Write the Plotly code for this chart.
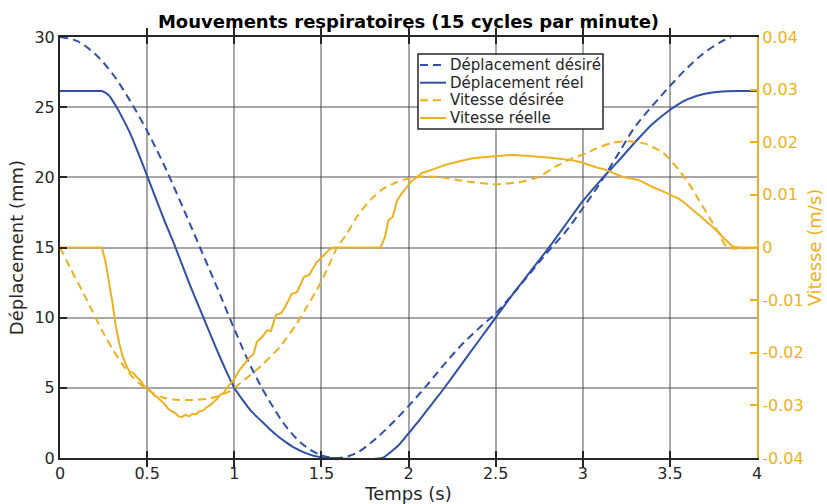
import plotly.graph_objects as go

# ---- Déplacement désiré (mm) ----
t_dep_des = [0.0, 0.1, 0.2, 0.3, 0.4, 0.5, 0.6, 0.7, 0.8, 0.9, 1.0, 1.1, 1.2, 1.3,
             1.4, 1.5, 1.6, 1.7, 1.8, 1.9, 2.0, 2.1, 2.2, 2.3, 2.4, 2.5, 2.6, 2.7,
             2.8, 2.9, 3.0, 3.1, 3.2, 3.3, 3.4, 3.5, 3.6, 3.7, 3.8, 3.85]
dep_des = [30.0, 29.7, 28.8, 27.4, 25.5, 23.3, 20.8, 18.0, 15.1, 12.2, 9.2, 6.4, 4.1, 2.2,
           0.9, 0.2, 0.0, 0.35, 1.25, 2.4, 3.7, 5.1, 6.6, 8.0, 9.2, 10.3, 11.7, 13.2,
           14.7, 16.1, 17.8, 19.6, 21.6, 23.6, 25.1, 26.5, 27.8, 28.9, 29.7, 30.0]

# ---- Déplacement réel (mm) ----
t_dep_reel = [0.0, 0.1, 0.2, 0.24, 0.28, 0.32, 0.36, 0.4, 0.45, 0.5, 0.55, 0.6, 0.65,
              0.7, 0.75, 0.8, 0.85, 0.9, 0.95, 1.0, 1.05, 1.1, 1.15, 1.2, 1.25, 1.3,
              1.35, 1.4, 1.45, 1.5, 1.55, 1.85, 1.9, 1.95, 2.0, 2.05, 2.1, 2.15, 2.2,
              2.3, 2.4, 2.5, 2.6, 2.7, 2.8, 2.9, 3.0, 3.1, 3.2, 3.3, 3.4, 3.5, 3.6,
              3.7, 3.8, 3.9, 4.0]
dep_reel = [26.15, 26.15, 26.15, 26.15, 25.85, 25.1, 24.2, 23.2, 21.7, 20.1, 18.5, 16.9, 15.4,
            13.8, 12.2, 10.7, 9.2, 7.7, 6.3, 5.0, 4.1, 3.3, 2.7, 2.1, 1.55, 1.1,
            0.7, 0.4, 0.18, 0.06, 0.0, 0.0, 0.45, 1.0, 1.75, 2.5, 3.3, 4.1, 4.9,
            6.6, 8.3, 10.0, 11.7, 13.3, 14.9, 16.6, 18.3, 19.75, 21.1, 22.5, 23.8, 24.8, 25.55,
            25.95, 26.12, 26.15, 26.15]

# ---- Vitesse désirée (m/s) ----
t_vit_des = [0.0, 0.067, 0.125, 0.183, 0.24, 0.30, 0.356, 0.413, 0.47, 0.53, 0.59, 0.65,
             0.74, 0.84, 0.90, 0.97, 1.03, 1.09, 1.167, 1.262, 1.358, 1.416, 1.473, 1.531,
             1.59, 1.646, 1.703, 1.78, 1.856, 1.933, 2.01, 2.095, 2.171, 2.324, 2.5, 2.649,
             2.745, 2.84, 2.936, 3.012, 3.075, 3.17, 3.266, 3.361, 3.457, 3.495, 3.553,
             3.61, 3.667, 3.725, 3.782, 3.83, 4.0]
vit_des = [0.0, -0.0044, -0.0081, -0.0119, -0.0157, -0.0192, -0.0221, -0.0245, -0.0262, -0.0276,
           -0.0285, -0.0289, -0.0290, -0.0288, -0.0283, -0.0274, -0.0259, -0.0243, -0.0221,
           -0.0189, -0.0145, -0.0113, -0.0081, -0.0043, 0.0, 0.0026, 0.0058, 0.0090, 0.0112,
           0.0124, 0.0132, 0.0135, 0.0134, 0.0126, 0.0120, 0.0125, 0.0134, 0.0153, 0.0169,
           0.0178, 0.0188, 0.0199, 0.0202, 0.0197, 0.0181, 0.0169, 0.0147, 0.0121, 0.0090,
           0.0058, 0.0026, 0.0, 0.0]

# ---- Vitesse réelle (m/s) ----
t_vit_reel = [0.0, 0.24, 0.26, 0.28, 0.30, 0.32, 0.34, 0.36, 0.38, 0.40, 0.42, 0.44, 0.46,
              0.48, 0.50, 0.52, 0.54, 0.56, 0.58, 0.60, 0.62, 0.64, 0.66, 0.68, 0.70, 0.72,
              0.74, 0.76, 0.78, 0.80, 0.82, 0.84, 0.86, 0.88, 0.90, 0.92, 0.94, 0.96, 0.98,
              1.00, 1.03, 1.06, 1.09, 1.11, 1.13, 1.16, 1.19, 1.21, 1.24, 1.27, 1.30, 1.33,
              1.36, 1.40, 1.43, 1.47, 1.51, 1.55, 1.57, 1.84, 1.865, 1.885, 1.91, 1.935,
              1.96, 1.99, 2.02, 2.05, 2.08, 2.12, 2.17, 2.22, 2.27, 2.32, 2.36, 2.41, 2.46,
              2.51, 2.55, 2.60, 2.65, 2.70, 2.75, 2.80, 2.85, 2.90, 2.94, 2.99, 3.04, 3.08,
              3.13, 3.17, 3.20, 3.23, 3.28, 3.32, 3.36, 3.40, 3.45, 3.50, 3.55, 3.58, 3.61,
              3.64, 3.67, 3.70, 3.73, 3.76, 3.78, 3.80, 3.82, 3.84, 3.86, 3.90, 4.0]
vit_reel = [0.0, 0.0, -0.0025, -0.0062, -0.0103, -0.0148, -0.0182, -0.0207, -0.0224, -0.0236,
            -0.0238, -0.0246, -0.0252, -0.0262, -0.0268, -0.0272, -0.0281, -0.0285, -0.0291,
            -0.0297, -0.0306, -0.0311, -0.0314, -0.0321, -0.0322, -0.0318, -0.0321, -0.0316,
            -0.0317, -0.0311, -0.0310, -0.0304, -0.0300, -0.0294, -0.0288, -0.0280, -0.0276,
            -0.0266, -0.0258, -0.0250, -0.0233, -0.0221, -0.0208, -0.0203, -0.0179, -0.0170,
            -0.0157, -0.0159, -0.0128, -0.0125, -0.0108, -0.0088, -0.0085, -0.0056, -0.0052,
            -0.0029, -0.0015, -0.0003, 0.0, 0.0, 0.0020, 0.0052, 0.0058, 0.0090, 0.0102,
            0.0115, 0.0127, 0.0134, 0.0142, 0.0146, 0.0152, 0.0158, 0.0162, 0.0166, 0.0169,
            0.0171, 0.0173, 0.0174, 0.0175, 0.0176, 0.0175, 0.0174, 0.0172, 0.0171, 0.0169,
            0.0167, 0.0166, 0.0162, 0.0156, 0.0152, 0.0148, 0.0143, 0.0138, 0.0134, 0.0131,
            0.0128, 0.0122, 0.0115, 0.0108, 0.0101, 0.0093, 0.0086, 0.0077, 0.0069, 0.0061,
            0.0052, 0.0044, 0.0035, 0.0029, 0.0021, 0.0014, 0.0007, 0.0002, 0.0, 0.0]

# ---- Axes ----
x_ticks = [0, 0.5, 1, 1.5, 2, 2.5, 3, 3.5, 4]
y1_ticks = [0, 5, 10, 15, 20, 25, 30]
y2_ticks = [-0.04, -0.03, -0.02, -0.01, 0.0, 0.01, 0.02, 0.03, 0.04]
x_labels = [f"{v:g}" for v in x_ticks]
y1_labels = [f"{v:g}" for v in y1_ticks]
y2_labels = [f"{v:g}" for v in y2_ticks]

series_names = ["Déplacement désiré", "Déplacement réel", "Vitesse désirée", "Vitesse réelle"]

BLUE = "#2F50A8"
ORANGE = "#EDB120"
TXT = "#262626"
GRID = "rgba(60,60,60,0.45)"
FONT = "DejaVu Sans"
DASH = "8px,5px"

W, H = 827, 504
L, R, T, B = 60, 70, 37, 46
PW, PH = W - L - R, H - T - B


def px_x(px):
    return (px - L) / PW


def px_y(py):
    return (H - B - py) / PH


styles = [(BLUE, DASH), (BLUE, "solid"), (ORANGE, DASH), (ORANGE, "solid")]

fig = go.Figure()
fig.add_trace(go.Scatter(x=t_dep_des, y=dep_des, mode="lines", name=series_names[0],
                         line=dict(color=BLUE, width=2, dash=DASH, shape="spline"), yaxis="y"))
fig.add_trace(go.Scatter(x=t_dep_reel, y=dep_reel, mode="lines", name=series_names[1],
                         line=dict(color=BLUE, width=2, shape="spline", smoothing=0.6), yaxis="y"))
fig.add_trace(go.Scatter(x=t_vit_des, y=vit_des, mode="lines", name=series_names[2],
                         line=dict(color=ORANGE, width=2, dash=DASH, shape="spline", smoothing=0.6),
                         yaxis="y2"))
fig.add_trace(go.Scatter(x=t_vit_reel, y=vit_reel, mode="lines", name=series_names[3],
                         line=dict(color=ORANGE, width=2), yaxis="y2"))

# Legend box drawn with shapes and annotations (compact MATLAB-style rows)
shapes = [dict(type="rect", xref="paper", yref="paper",
               x0=px_x(418), x1=px_x(603), y0=px_y(129), y1=px_y(54),
               line=dict(color=TXT, width=1.5), fillcolor="white", layer="above")]
annotations = []
row_centres = [65.0, 82.7, 100.3, 118.0]
for name, (col, dash), cy in zip(series_names, styles, row_centres):
    shapes.append(dict(type="line", xref="paper", yref="paper",
                       x0=px_x(420), x1=px_x(446), y0=px_y(cy), y1=px_y(cy),
                       line=dict(color=col, width=2, dash=dash), layer="above"))
    annotations.append(dict(xref="paper", yref="paper", x=px_x(448), y=px_y(cy),
                            xanchor="left", yanchor="middle", showarrow=False,
                            text=name, font=dict(family=FONT, size=15, color=TXT)))

fig.update_layout(
    width=W, height=H,
    margin=dict(l=L, r=R, t=T, b=B, autoexpand=False),
    paper_bgcolor="white", plot_bgcolor="white",
    font=dict(family=FONT, size=16, color=TXT),
    title=dict(text="<b>Mouvements respiratoires (15 cycles par minute)</b>",
               x=(L + L + PW) / 2 / W, xanchor="center", y=1 - 22 / H, yanchor="middle",
               font=dict(family=FONT, size=18, color="black")),
    showlegend=False,
    shapes=shapes,
    annotations=annotations,
    xaxis=dict(range=[0, 4], tickvals=x_ticks, ticktext=x_labels, automargin=False,
               ticks="inside", ticklen=7, tickwidth=1.5, tickcolor=TXT,
               showline=True, linecolor=TXT, linewidth=2, mirror="allticks",
               showgrid=True, gridcolor=GRID, gridwidth=1.5, zeroline=False,
               title=dict(text="Temps (s)", font=dict(size=18, color=TXT), standoff=4),
               tickfont=dict(size=16, color=TXT)),
    yaxis=dict(range=[0, 30], tickvals=y1_ticks, ticktext=y1_labels, automargin=False,
               ticks="inside", ticklen=7, tickwidth=1.5, tickcolor=TXT,
               showline=True, linecolor=TXT, linewidth=2,
               showgrid=True, gridcolor=GRID, gridwidth=1.5, zeroline=False,
               title=dict(text="Déplacement (mm)", font=dict(size=18, color=TXT), standoff=6),
               tickfont=dict(size=16, color=TXT)),
    yaxis2=dict(range=[-0.04, 0.04], tickvals=y2_ticks, ticktext=y2_labels, automargin=False,
                overlaying="y", side="right",
                ticks="inside", ticklen=7, tickwidth=1.5, tickcolor=ORANGE,
                showline=True, linecolor=ORANGE, linewidth=2,
                showgrid=False, zeroline=False,
                title=dict(text="Vitesse (m/s)", font=dict(size=18, color=ORANGE), standoff=6),
                tickfont=dict(size=16, color=ORANGE)),
)

fig.write_html("out.html")
